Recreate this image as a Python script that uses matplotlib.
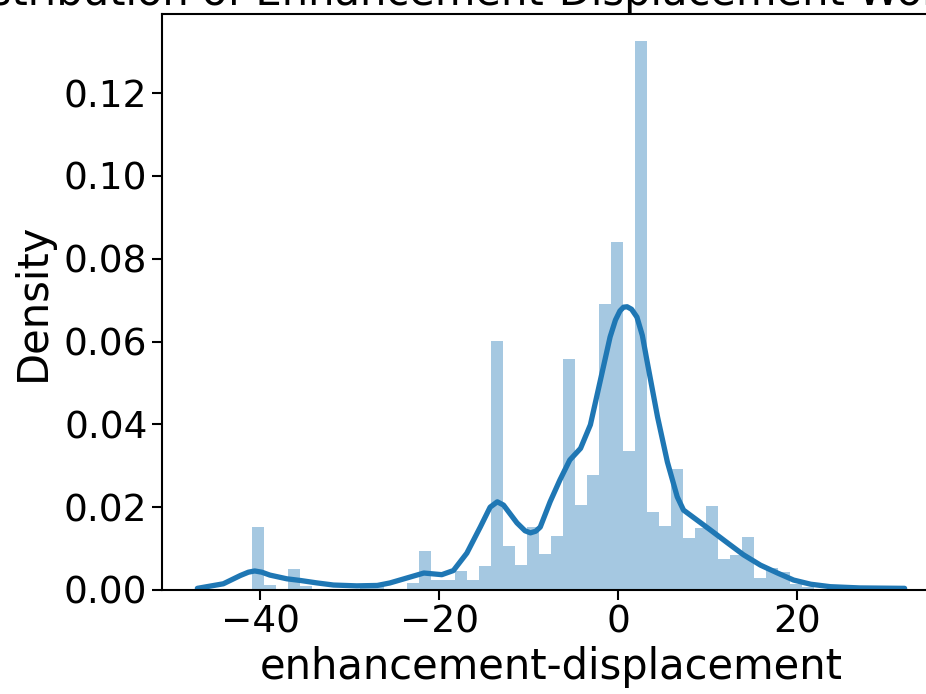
import matplotlib
matplotlib.use("Agg")
import matplotlib.pyplot as plt
import numpy as np

# histogram: 50 bins between the data min and max
data_min = -40.9
data_max = 25.9
bin_heights = [
    0.0153, 0.0012, 0.0, 0.0051, 0.0010, 0.0, 0.0, 0.0, 0.0, 0.0015,
    0.0015, 0.0, 0.0, 0.0017, 0.0094, 0.0025, 0.0025, 0.0047, 0.0023, 0.0058,
    0.0601, 0.0106, 0.0060, 0.0152, 0.0087, 0.0130, 0.0558, 0.0205, 0.0278, 0.0691,
    0.0841, 0.0336, 0.1326, 0.0188, 0.0155, 0.0292, 0.0126, 0.0150, 0.0203, 0.0075,
    0.0085, 0.0128, 0.0030, 0.0053, 0.0043, 0.0014, 0.0008, 0.0, 0.0, 0.0008,
]

# kde curve
kde_x = [-47.0, -44.1, -42.2, -41.3, -40.6, -39.8, -38.9, -37.0, -35.5, -33.6,
         -31.8, -29.2, -26.9, -25.5, -23.6, -21.7, -19.7, -18.4, -16.9, -15.4,
         -14.3, -13.5, -12.8, -11.3, -10.4, -9.8, -9.2, -8.7, -7.6, -6.5,
         -5.4, -4.2, -3.1, -2.0, -0.9, -0.3, 0.2, 0.6, 1.0, 1.5,
         2.1, 2.7, 3.2, 4.4, 5.5, 6.6, 7.3, 8.8, 10.3, 12.2,
         14.0, 15.9, 17.8, 19.6, 21.5, 23.7, 27.0, 32.0]
kde_y = [0.0004, 0.0015, 0.0035, 0.0043, 0.0046, 0.0043, 0.0036, 0.0027, 0.0023, 0.0017,
         0.0012, 0.0010, 0.0011, 0.0017, 0.0029, 0.0041, 0.0037, 0.0047, 0.0089, 0.0152,
         0.0200, 0.0213, 0.0205, 0.0162, 0.0143, 0.0138, 0.0142, 0.0152, 0.0213, 0.0266,
         0.0314, 0.0342, 0.0399, 0.0505, 0.0611, 0.0652, 0.0674, 0.0683, 0.0684, 0.0678,
         0.0659, 0.0615, 0.0556, 0.0418, 0.0309, 0.0225, 0.0193, 0.0169, 0.0145, 0.0114,
         0.0085, 0.0060, 0.0041, 0.0024, 0.0014, 0.0008, 0.0005, 0.0004]

title = "Distribution of Enhancement-Displacement Worker Scores"
xlabel = "enhancement-displacement"
ylabel = "Density"


def main():
    plt.rcParams["axes.linewidth"] = 1.5
    plt.rcParams["xtick.major.width"] = 1.5
    plt.rcParams["ytick.major.width"] = 1.5
    plt.rcParams["xtick.major.size"] = 7
    plt.rcParams["ytick.major.size"] = 7

    fig = plt.figure(figsize=(9.26, 6.94), dpi=100)
    ax = fig.add_axes([162 / 926, 104 / 694, 778 / 926, 576 / 694])

    edges = np.linspace(data_min, data_max, len(bin_heights) + 1)
    ax.bar(edges[:-1], bin_heights, width=np.diff(edges), align="edge",
           color="#1f77b4", alpha=0.4, linewidth=0)
    ax.plot(kde_x, kde_y, color="#1f77b4", linewidth=3.8,
            solid_joinstyle="round", solid_capstyle="round")

    ax.set_xlim(-50.95, 35.95)
    ax.set_ylim(0, 0.1391)
    ax.tick_params(labelsize=27)
    ax.set_title(title, fontsize=30, pad=4)
    ax.set_xlabel(xlabel, fontsize=30)
    ax.set_ylabel(ylabel, fontsize=30, labelpad=7)

    fig.savefig("out.png", dpi=100)


if __name__ == "__main__":
    main()
